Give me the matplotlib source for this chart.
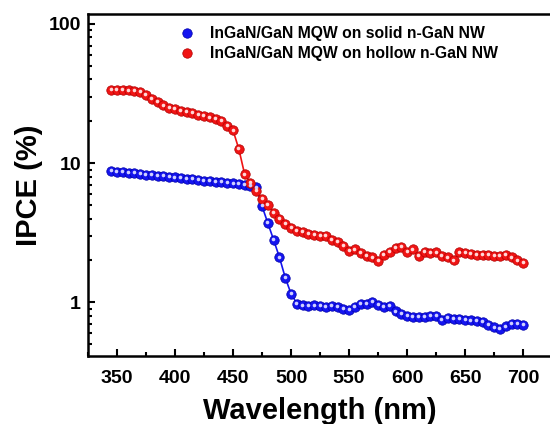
"""IPCE spectra of InGaN/GaN MQW on solid and hollow n-GaN nanowires."""

import matplotlib
matplotlib.use("Agg")
import matplotlib.pyplot as plt
import matplotlib.transforms as mtransforms
import numpy as np
from matplotlib.ticker import FixedLocator, LogLocator, NullFormatter, FixedFormatter

plt.rcParams["font.family"] = ["Liberation Sans", "DejaVu Sans"]
plt.rcParams["font.weight"] = "bold"

wavelength = np.arange(345, 701, 5)

solid_ipce = [
    8.8, 8.7, 8.6, 8.5, 8.45, 8.35, 8.25, 8.2, 8.1, 8.05,
    7.95, 7.9, 7.8, 7.75, 7.65, 7.6, 7.5, 7.45, 7.35, 7.3,
    7.2, 7.15, 7.05, 7.0, 6.9, 6.7, 4.9, 3.7, 2.8, 2.1,
    1.5, 1.15, 0.98, 0.95, 0.94, 0.95, 0.94, 0.93, 0.94, 0.92,
    0.9, 0.88, 0.92, 0.97, 0.98, 1.0, 0.96, 0.93, 0.94, 0.86,
    0.82, 0.8, 0.79, 0.78, 0.78, 0.8, 0.8, 0.75, 0.77, 0.76,
    0.76, 0.75, 0.74, 0.73, 0.72, 0.69, 0.66, 0.64, 0.67, 0.7,
    0.7, 0.69,
]

hollow_ipce = [
    33.5, 33.5, 33.5, 33.3, 33.0, 32.5, 31.0, 29.0, 27.5, 26.0,
    25.0, 24.5, 23.8, 23.3, 22.8, 22.3, 21.8, 21.3, 20.8, 20.2,
    18.5, 17.2, 12.6, 8.3, 7.2, 6.3, 5.5, 5.0, 4.4, 4.0,
    3.65, 3.4, 3.25, 3.2, 3.1, 3.05, 3.0, 3.0, 2.8, 2.7,
    2.55, 2.35, 2.4, 2.25, 2.15, 2.1, 1.98, 2.2, 2.3, 2.45,
    2.5, 2.3, 2.4, 2.15, 2.3, 2.25, 2.28, 2.15, 2.1, 2.0,
    2.28, 2.25, 2.22, 2.2, 2.2, 2.18, 2.15, 2.15, 2.18, 2.1,
    2.0, 1.93,
]

series = [
    ("InGaN/GaN MQW on solid n-GaN NW", solid_ipce, "#1414f0", "#0000a8", "#d0d0ff"),
    ("InGaN/GaN MQW on hollow n-GaN NW", hollow_ipce, "#f01414", "#b00000", "#ffd8d8"),
]

x_ticks = [350, 400, 450, 500, 550, 600, 650, 700]
y_ticks = [1, 10, 100]
y_tick_labels = ["1", "10", "100"]

fig = plt.figure(figsize=(5.5, 4.24), dpi=100)
ax = fig.add_axes([0.16, 0.160, 0.844, 0.807])

# small light dot on each ball to mimic the shaded spheres
highlight = mtransforms.offset_copy(ax.transData, fig=fig, x=-0.4, y=0.6, units="points")

handles = []
for label, values, face, edge, light in series:
    ax.plot(wavelength, values, color=face, linewidth=1.2, zorder=2)
    h, = ax.plot(wavelength, values, linestyle="none", marker="o", markersize=6.8,
                 markerfacecolor=face, markeredgecolor=edge, markeredgewidth=0.5,
                 label=label, zorder=3)
    ax.plot(wavelength, values, linestyle="none", marker="o", markersize=2.6,
            markerfacecolor=light, markeredgewidth=0, transform=highlight, zorder=4)
    handles.append(h)

ax.set_yscale("log")
ax.set_xlim(325, 725)
ax.set_ylim(0.41, 118)

ax.xaxis.set_major_locator(FixedLocator(x_ticks))
ax.xaxis.set_minor_locator(FixedLocator([x + 25 for x in x_ticks[:-1]] + [325]))
ax.yaxis.set_major_locator(FixedLocator(y_ticks))
ax.yaxis.set_major_formatter(FixedFormatter(y_tick_labels))
ax.yaxis.set_minor_locator(LogLocator(base=10, subs=np.arange(2, 10)))
ax.yaxis.set_minor_formatter(NullFormatter())

ax.tick_params(which="both", direction="in", width=1.5, labelsize=14)
ax.tick_params(which="major", length=5)
ax.tick_params(which="minor", length=3)
ax.tick_params(axis="x", which="major", pad=10)
ax.tick_params(axis="y", which="major", pad=5)
for spine in ax.spines.values():
    spine.set_linewidth(1.8)
ax.spines["right"].set_linewidth(1.0)

ax.set_xlabel("Wavelength (nm)", fontsize=21, fontweight="bold", labelpad=7)
ax.set_ylabel("IPCE (%)", fontsize=21, fontweight="bold", labelpad=4)

ax.legend(handles=handles, loc="upper left", bbox_to_anchor=(0.165, 1.005), frameon=False,
          handlelength=1.0, handletextpad=1.0, labelspacing=0.32,
          prop={"weight": "bold", "size": 11.3})

fig.savefig("out.png", dpi=100)
